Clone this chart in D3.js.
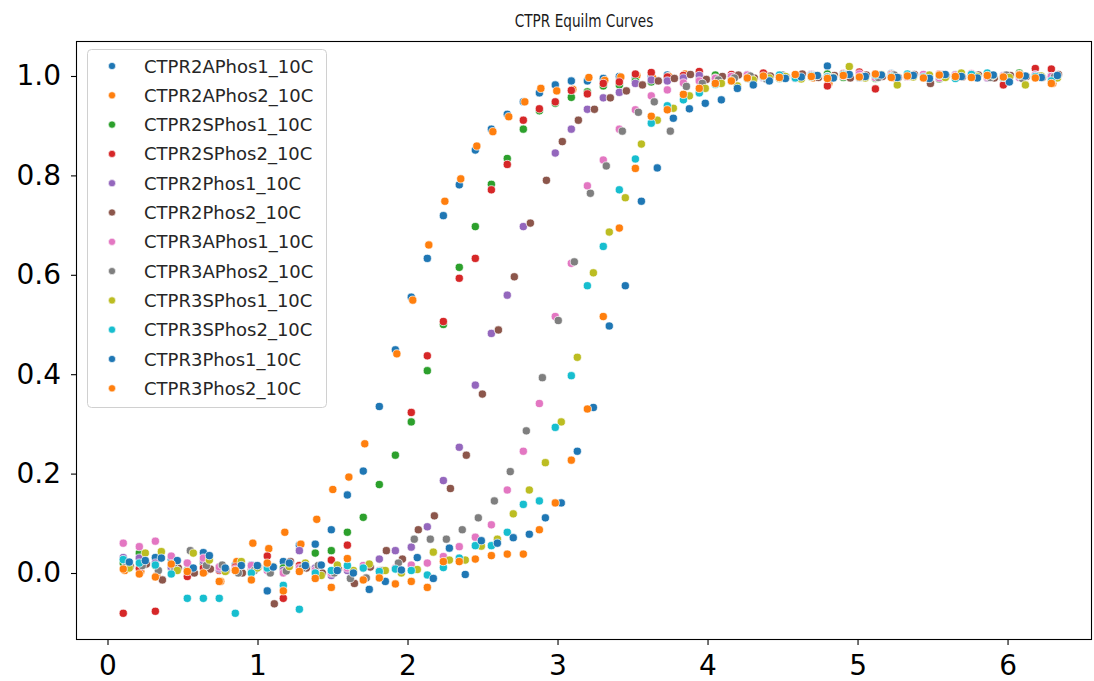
<!DOCTYPE html>
<html><head><meta charset="utf-8">
<script src="https://cdn.jsdelivr.net/npm/d3@7"></script>
<style>body{margin:0;background:#fff}svg{display:block}</style>
</head><body><svg id="c" width="1094" height="681"></svg>
<script>
const seriesNames = ["CTPR2APhos1_10C","CTPR2APhos2_10C","CTPR2SPhos1_10C","CTPR2SPhos2_10C","CTPR2Phos1_10C","CTPR2Phos2_10C","CTPR3APhos1_10C","CTPR3APhos2_10C","CTPR3SPhos1_10C","CTPR3SPhos2_10C","CTPR3Phos1_10C","CTPR3Phos2_10C"];
const seriesColors = ["#1f77b4","#ff7f0e","#2ca02c","#d62728","#9467bd","#8c564b","#e377c2","#7f7f7f","#bcbd22","#17becf","#1f77b4","#ff7f0e"];
const xValues = [0.105,0.212,0.319,0.425,0.532,0.639,0.745,0.852,0.959,1.065,1.172,1.279,1.385,1.492,1.599,1.705,1.812,1.919,2.025,2.132,2.239,2.345,2.452,2.559,2.665,2.772,2.879,2.985,3.092,3.199,3.305,3.412,3.519,3.625,3.732,3.839,3.945,4.052,4.159,4.265,4.372,4.479,4.585,4.692,4.799,4.905,5.012,5.119,5.225,5.332,5.439,5.545,5.652,5.759,5.865,5.972,6.079,6.185,6.292];
// small per-series time shift (x units)
const xShift = [0,0.01,0,0,0,0.047,0,0.02,0.04,0,0.04,0];

const s2APhos1 = [0.025,0.030,0.031,0.028,0.006,0.041,0.010,0.016,0.016,-0.036,0.023,0.056,0.058,0.087,0.157,0.205,0.335,0.449,0.555,0.633,0.719,0.781,0.851,0.893,0.923,0.948,0.966,0.982,0.990,0.990,0.995,0.999,0.996,1.000,1.002,0.998,0.995,1.000,0.997,1.003,0.996,1.001,0.999,1.004,1.020,0.998,1.002,0.997,1.005,0.999,1.001,0.996,1.003,0.998,1.000,0.995,1.002,0.999,1.001];
const s2APhos2 = [0.005,0.003,-0.004,0.018,0.003,0.003,-0.017,0.023,0.060,0.049,0.082,0.058,0.108,0.168,0.193,0.260,null,0.441,0.549,0.660,0.748,0.793,0.859,0.888,0.918,0.948,0.975,0.970,0.973,0.997,0.991,0.998,1.001,0.996,0.999,1.004,0.995,0.997,1.001,0.994,1.003,0.998,1.000,0.996,0.985,1.002,0.998,1.001,0.996,1.003,0.999,1.001,0.997,1.002,0.998,1.000,0.996,1.001,0.985];
const s2SPhos1 = [0.020,0.040,0.015,0.010,0.005,0.020,0.012,0.005,0.010,0.018,0.010,0.015,0.040,0.045,0.082,0.112,0.178,0.237,0.304,0.407,0.500,0.615,0.697,0.782,0.834,0.893,0.930,0.945,0.957,0.968,0.980,0.982,0.990,0.988,0.994,0.998,0.992,1.002,0.996,0.999,1.003,0.995,1.001,0.998,1.004,0.997,1.000,0.995,1.003,0.998,1.001,0.994,1.002,0.999,1.004,0.996,1.006,0.998,1.000];
const s2SPhos2 = [-0.081,0.009,-0.077,0.015,-0.007,0.010,0.005,0.012,0.008,0.034,-0.051,0.015,0.005,0.026,0.056,null,null,null,0.323,0.437,0.506,0.593,0.633,0.771,0.822,0.911,0.934,0.948,0.971,0.964,0.985,0.988,1.004,1.007,0.998,1.001,1.009,0.996,1.003,0.999,1.006,0.997,1.002,1.000,0.980,1.005,1.008,0.974,1.003,0.998,1.001,1.004,0.997,1.002,0.999,0.982,1.003,1.015,1.014];
const s2Phos1 = [0.031,0.030,0.020,0.012,0.020,0.025,0.008,0.005,0.013,0.010,0.005,0.045,0.010,-0.005,0.005,0.010,0.028,0.045,0.052,0.093,0.186,0.253,0.378,0.482,0.559,0.697,null,0.845,0.893,0.933,0.956,0.967,0.985,0.992,0.990,0.996,1.001,0.994,0.998,1.002,0.997,1.000,0.995,1.003,0.999,1.001,0.996,1.004,0.998,1.000,0.997,1.002,0.999,1.003,0.996,1.001,0.998,1.002,0.999];
const s2Phos2 = [0.013,0.018,-0.014,0.010,0.000,0.008,0.005,0.000,0.012,-0.062,0.023,0.010,0.000,0.008,-0.021,0.012,0.045,0.028,0.087,0.115,0.170,0.237,0.360,0.489,0.596,0.704,0.790,0.868,0.911,0.933,0.956,0.970,0.982,0.990,0.995,1.003,0.993,0.999,1.002,0.996,1.000,0.998,1.004,0.997,1.001,0.996,1.002,0.999,0.997,1.003,0.985,1.000,0.998,1.002,0.996,1.001,0.999,0.997,1.003];
const s3APhos1 = [0.060,0.053,0.064,0.034,0.020,0.030,0.012,0.008,0.015,0.005,0.000,0.010,0.005,0.000,0.010,0.015,0.005,0.010,0.016,0.020,0.033,0.053,0.072,0.097,0.167,0.245,0.341,0.516,0.623,0.779,0.831,0.893,0.932,0.960,0.972,0.986,0.990,0.995,0.999,1.002,0.997,1.001,0.996,1.003,0.998,1.000,1.004,0.997,1.001,0.999,1.003,0.996,1.002,1.005,0.998,1.000,0.997,1.002,0.999];
const s3APhos2 = [0.020,0.015,0.005,0.010,0.045,0.015,0.016,0.000,0.005,0.000,0.004,0.010,0.015,0.000,-0.011,-0.010,0.005,0.020,0.068,0.068,0.068,0.087,0.111,0.145,0.204,0.286,0.393,0.508,0.626,0.764,0.819,0.889,0.927,0.948,0.889,0.979,0.985,0.992,0.996,1.000,0.994,1.002,0.998,1.001,0.996,1.003,0.999,0.997,1.002,1.000,0.996,1.003,0.998,1.001,0.997,1.002,0.995,1.000,0.998];
const s3SPhos1 = [0.010,0.040,0.043,0.005,0.040,0.026,0.003,0.023,0.010,0.013,0.013,0.020,-0.005,0.016,0.005,0.018,0.005,0.000,0.007,0.042,0.026,0.026,0.054,0.068,0.119,0.167,0.222,0.304,0.434,0.604,0.686,0.755,0.863,0.911,0.935,0.960,0.975,0.985,0.980,0.992,0.996,0.999,0.994,1.001,0.997,1.019,0.996,1.003,0.982,0.998,1.002,0.997,1.006,0.999,1.001,0.997,0.982,1.000,0.996];
const s3SPhos2 = [0.027,0.020,0.016,-0.002,-0.051,-0.051,-0.051,-0.081,0.000,0.010,-0.025,-0.073,0.000,0.005,0.015,0.010,0.003,0.008,0.005,-0.004,0.011,0.030,0.055,0.055,0.082,0.138,0.145,0.293,0.397,0.578,0.657,0.771,0.833,0.905,0.940,0.952,0.966,0.983,0.990,0.995,0.999,1.002,0.996,1.001,0.998,1.003,0.997,1.002,0.999,1.004,0.998,1.001,0.995,1.003,1.006,0.997,1.001,0.999,0.990];
const s3Phos1 = [0.022,0.025,0.030,0.025,0.010,0.035,0.010,0.015,0.015,0.012,0.020,0.015,0.016,0.005,0.000,-0.033,-0.017,0.006,0.031,-0.011,0.050,-0.003,0.065,0.060,0.071,0.078,0.111,0.141,0.245,0.333,0.497,0.578,0.748,0.815,0.915,0.934,0.945,0.952,0.975,0.982,0.990,0.995,0.998,1.001,0.996,1.003,0.999,1.002,0.997,1.001,0.995,1.003,0.999,0.996,1.002,0.988,1.000,0.997,1.001];
const s3Phos2 = [0.008,-0.002,-0.008,0.018,0.003,0.000,-0.017,0.005,-0.014,0.020,-0.036,0.003,-0.011,-0.029,0.029,-0.014,-0.010,-0.022,-0.017,-0.029,0.023,0.023,0.028,0.035,0.038,0.038,0.087,0.141,0.227,0.330,0.516,0.694,0.814,0.919,0.932,0.963,0.975,0.985,0.990,0.996,1.000,0.997,1.003,0.999,0.995,1.001,0.998,1.004,0.997,1.000,0.996,1.002,0.999,0.997,1.001,0.998,1.002,0.996,0.985];

const seriesValues = [s2APhos1,s2APhos2,s2SPhos1,s2SPhos2,s2Phos1,s2Phos2,s3APhos1,s3APhos2,s3SPhos1,s3SPhos2,s3Phos1,s3Phos2];
const xTicks = [0,1,2,3,4,5,6];
const yTicks = [0.0,0.2,0.4,0.6,0.8,1.0];
const titleText = "CTPR Equilm Curves";

const svg = d3.select("#c");
const L = 76, R = 1092, T = 41, B = 640;
const x = d3.scaleLinear().domain([-0.21, 6.563]).range([L, R]);
const y = d3.scaleLinear().domain([-0.1348, 1.0704]).range([B, T]);

// points
const pts = [];
seriesValues.forEach((vals, si) => {
  vals.forEach((v, i) => {
    if (v !== null) pts.push({s: si, x: xValues[i] + xShift[si], y: v});
  });
});
svg.append("g").selectAll("circle").data(pts).join("circle")
  .attr("cx", d => x(d.x)).attr("cy", d => y(d.y)).attr("r", 4.1)
  .attr("fill", d => seriesColors[d.s])
  .attr("stroke", "#fff").attr("stroke-width", 0.7);

// frame
svg.append("rect").attr("x", L + 0.5).attr("y", T + 0.5).attr("width", R - L - 1).attr("height", B - T - 1)
  .attr("fill", "none").attr("stroke", "#000").attr("stroke-width", 1.1);

// x axis
const xa = svg.append("g").attr("transform", `translate(0,${B})`)
  .call(d3.axisBottom(x).tickValues(xTicks).tickFormat(d3.format("d")).tickSize(5).tickPadding(10));
xa.select(".domain").remove();
xa.selectAll("text").attr("font-family", "DejaVu Sans").attr("font-size", 28).attr("fill", "#000");
xa.selectAll("line").attr("stroke", "#000").attr("stroke-width", 1.1);

// y axis
const ya = svg.append("g").attr("transform", `translate(${L},0)`)
  .call(d3.axisLeft(y).tickValues(yTicks).tickFormat(d3.format(".1f")).tickSize(5).tickPadding(10));
ya.select(".domain").remove();
ya.selectAll("text").attr("font-family", "DejaVu Sans").attr("font-size", 28).attr("fill", "#000");
ya.selectAll("line").attr("stroke", "#000").attr("stroke-width", 1.1);

// title
const cx = (L + R) / 2;
svg.append("text").attr("transform", `translate(${cx},27) scale(0.76,1)`).attr("text-anchor", "middle")
  .attr("font-family", "DejaVu Sans").attr("font-size", 18).attr("fill", "#1a1a1a").text(titleText);

// legend
const lg = svg.append("g");
lg.append("rect").attr("x", 87.5).attr("y", 49.5).attr("width", 239).attr("height", 358).attr("rx", 4)
  .attr("fill", "#fff").attr("fill-opacity", 0.8).attr("stroke", "#d0d0d0").attr("stroke-width", 1);
seriesNames.forEach((n, i) => {
  const cy = 66 + i * 29.3;
  lg.append("circle").attr("cx", 112).attr("cy", cy).attr("r", 3.6)
    .attr("fill", seriesColors[i]).attr("stroke", "#fff").attr("stroke-width", 0.6);
  lg.append("text").attr("x", 144).attr("y", cy + 6.5).attr("font-family", "DejaVu Sans")
    .attr("font-size", 18).attr("fill", "#262626").text(n);
});
</script></body></html>
